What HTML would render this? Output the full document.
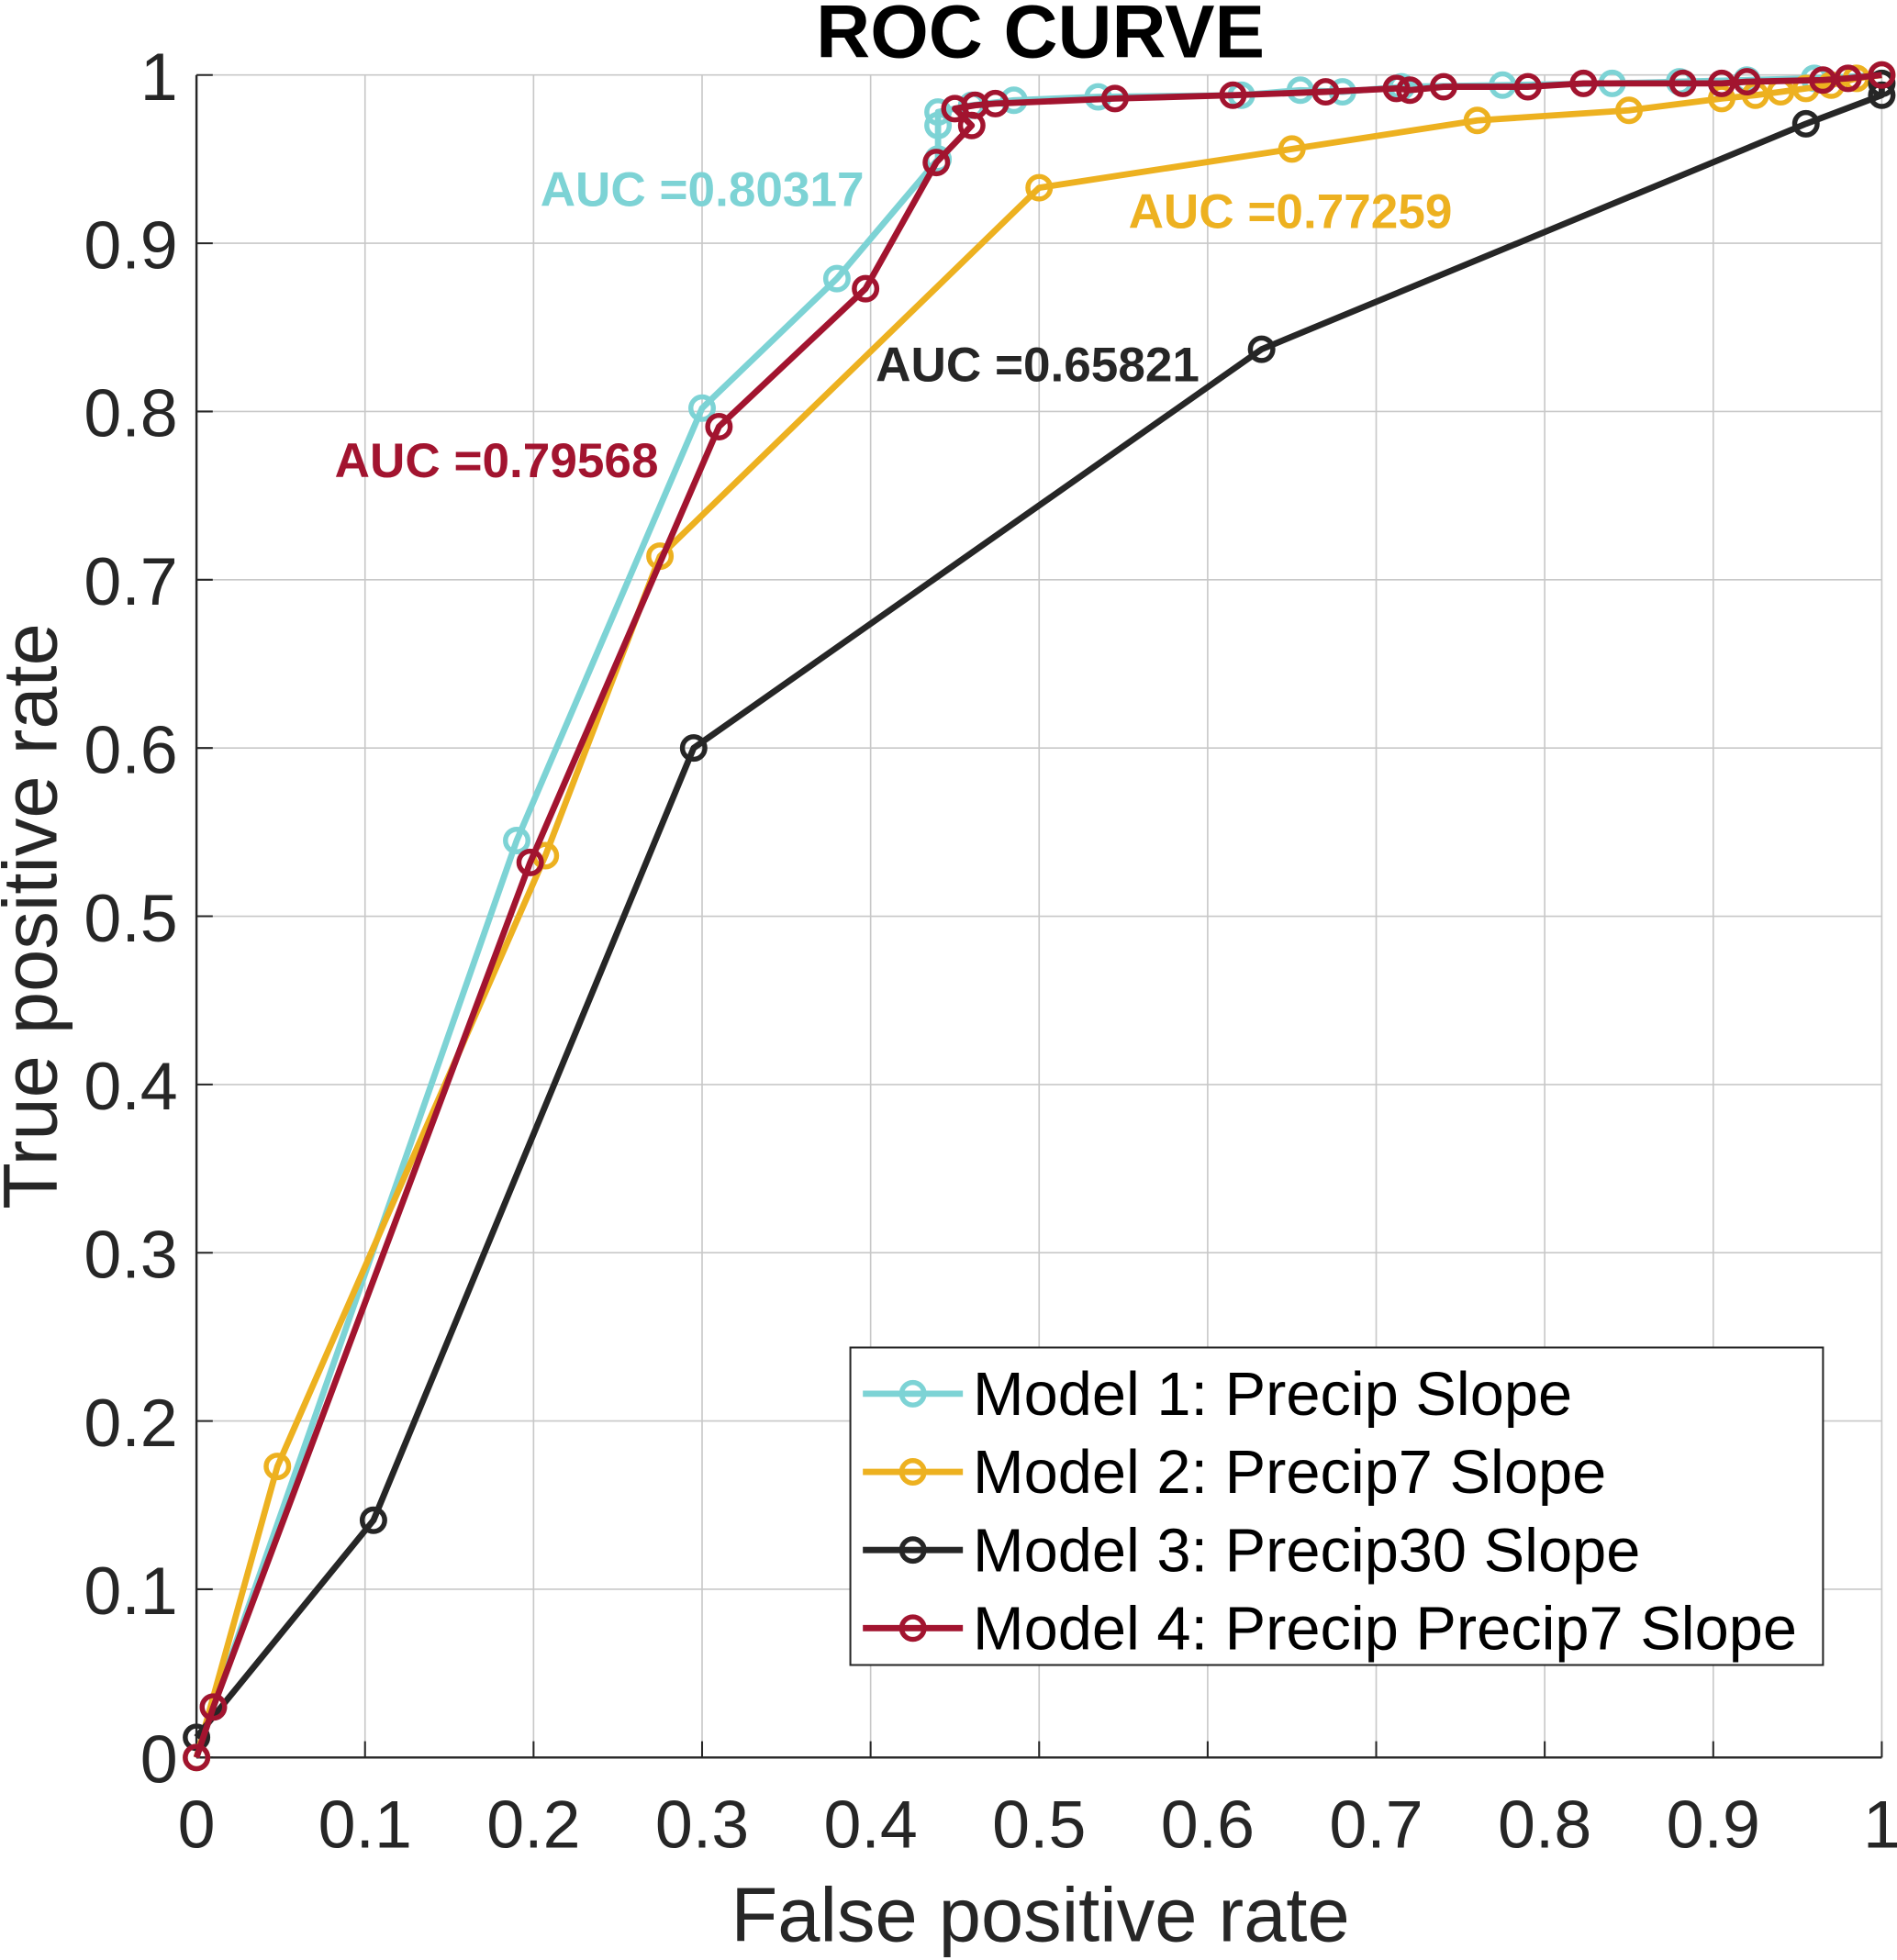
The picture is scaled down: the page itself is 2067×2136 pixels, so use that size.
<!DOCTYPE html>
<html><head><meta charset="utf-8"><style>
html,body{margin:0;padding:0;background:#fff;}
svg{display:block;}
text{font-family:"Liberation Sans",Arial,sans-serif;}
</style></head><body>
<svg id="chart" width="2067" height="2136" viewBox="0 0 1517 1568" xmlns="http://www.w3.org/2000/svg"></svg>
<script>
const xTicks=[0,0.1,0.2,0.3,0.4,0.5,0.6,0.7,0.8,0.9,1];
const xTickLabels=["0","0.1","0.2","0.3","0.4","0.5","0.6","0.7","0.8","0.9","1"];
const yTicks=[0,0.1,0.2,0.3,0.4,0.5,0.6,0.7,0.8,0.9,1];
const yTickLabels=["0","0.1","0.2","0.3","0.4","0.5","0.6","0.7","0.8","0.9","1"];
const seriesNames=["Model 1: Precip Slope","Model 2: Precip7 Slope","Model 3: Precip30 Slope","Model 4: Precip Precip7 Slope"];
const m1x=[0,0.01,0.19,0.30,0.38,0.44,0.44,0.44,0.46,0.485,0.535,0.62,0.655,0.68,0.715,0.775,0.84,0.88,0.92,0.96,1];
const m1y=[0,0.03,0.545,0.802,0.879,0.95,0.97,0.978,0.982,0.985,0.987,0.988,0.991,0.99,0.993,0.994,0.995,0.996,0.997,0.998,1];
const m2x=[0,0.048,0.207,0.275,0.5,0.65,0.76,0.85,0.905,0.925,0.94,0.955,0.97,0.985,1];
const m2y=[0,0.173,0.536,0.714,0.933,0.956,0.973,0.979,0.986,0.988,0.99,0.992,0.994,0.998,1];
const m3x=[0,0.105,0.295,0.632,0.955,1,1];
const m3y=[0.012,0.141,0.6,0.837,0.971,0.988,0.995];
const m4x=[0,0.01,0.198,0.31,0.397,0.439,0.46,0.45,0.462,0.474,0.545,0.615,0.67,0.712,0.72,0.74,0.79,0.823,0.882,0.905,0.92,0.965,0.98,1];
const m4y=[0,0.03,0.532,0.791,0.873,0.948,0.97,0.98,0.982,0.983,0.986,0.988,0.99,0.992,0.991,0.993,0.993,0.995,0.995,0.995,0.996,0.997,0.998,1];
const aucLabels=["AUC =0.80317","AUC =0.77259","AUC =0.65821","AUC =0.79568"];
const aucPos=[[0.204,0.922],[0.553,0.909],[0.403,0.818],[0.082,0.761]];

const X0=157,X1=1505,Y0=1406,Y1=60;
const sx=v=>X0+(X1-X0)*v, sy=v=>Y0-(Y0-Y1)*v;
const svg=document.getElementById('chart');
const NS='http://www.w3.org/2000/svg';
function mk(t,a,p){const e=document.createElementNS(NS,t);for(const k in a)e.setAttribute(k,a[k]);(p||svg).appendChild(e);return e;}

const grid=mk('g',{});


xTicks.forEach((t,i)=>{
  mk('line',{x1:sx(t),x2:sx(t),y1:Y1,y2:Y0,stroke:'#c8c8c8','stroke-width':1.2},grid);
  mk('line',{x1:sx(t),x2:sx(t),y1:Y0,y2:Y0-13,stroke:'#262626','stroke-width':1.5},grid);
  const tx=mk('text',{x:sx(t),y:1478,'font-size':54,fill:'#262626','text-anchor':'middle'});
  
  
  tx.textContent=xTickLabels[i];
});
yTicks.forEach((t,i)=>{
  mk('line',{x1:X0,x2:X1,y1:sy(t),y2:sy(t),stroke:'#c8c8c8','stroke-width':1.2},grid);
  mk('line',{x1:X0,x2:X0+13,y1:sy(t),y2:sy(t),stroke:'#262626','stroke-width':1.5},grid);
  const ty=mk('text',{x:X0-15,y:sy(t)+20,'font-size':54,fill:'#262626','text-anchor':'end'});
  
  
  ty.textContent=yTickLabels[i];
});
mk('line',{x1:X0,x2:X1,y1:Y0,y2:Y0,stroke:'#262626','stroke-width':1.8});
mk('line',{x1:X0,x2:X0,y1:Y0,y2:Y1,stroke:'#262626','stroke-width':1.8});

const colors=['#7dd3d5','#edb120','#262626','#a2142f'];
const xs=[m1x,m2x,m3x,m4x], ys=[m1y,m2y,m3y,m4y];
xs.forEach((xa,s)=>{
  const g=mk('g',{});
  
  
  const pts=xa.map((x,i)=>sx(x)+','+sy(ys[s][i])).join(' ');
  mk('polyline',{points:pts,fill:'none',stroke:colors[s],'stroke-width':5,'stroke-linejoin':'round'},g);
  xa.forEach((x,i)=>{
    const c=mk('circle',{cx:sx(x),cy:sy(ys[s][i]),r:9,fill:'none',stroke:colors[s],'stroke-width':4},g);
    
    
  });
});
aucLabels.forEach((l,i)=>{
  const t=mk('text',{x:sx(aucPos[i][0]),y:sy(aucPos[i][1]),'font-size':39,'font-weight':'bold',fill:colors[i]});
  
  
  t.textContent=l;
});

const title=mk('text',{x:832,y:46,'font-size':60,'font-weight':'bold','text-anchor':'middle',fill:'#000'});


title.textContent='ROC CURVE';
const xl=mk('text',{x:832,y:1553,'font-size':61,'text-anchor':'middle',fill:'#262626'});


xl.textContent='False positive rate';
const yl=mk('text',{x:0,y:0,'font-size':61,'text-anchor':'middle',fill:'#262626',transform:'translate(45,733) rotate(-90)'});


yl.textContent='True positive rate';

const lg=mk('g',{});


mk('rect',{x:680,y:1078,width:778,height:254,fill:'#fff',stroke:'#262626','stroke-width':1.5},lg);
seriesNames.forEach((n,i)=>{
  const y=1115+i*62.5;
  const e=mk('g',{},lg);
  
  
  mk('line',{x1:690,x2:770,y1:y,y2:y,stroke:colors[i],'stroke-width':5},e);
  mk('circle',{cx:730,cy:y,r:9,fill:'none',stroke:colors[i],'stroke-width':4},e);
  const t=mk('text',{x:778,y:y+17,'font-size':49,fill:'#000'},e);
  t.textContent=n;
});
</script>
</body></html>
